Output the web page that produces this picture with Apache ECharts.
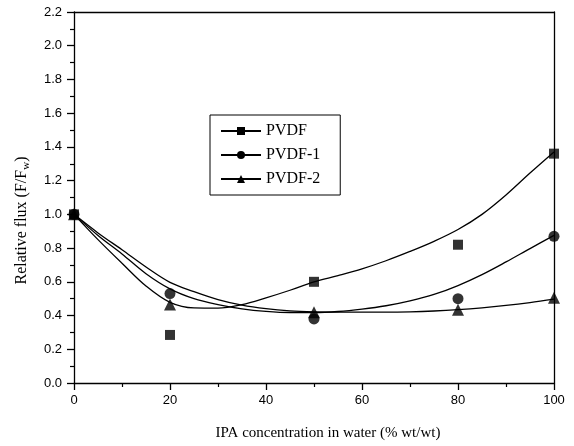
<!DOCTYPE html>
<html>
<head>
<meta charset="utf-8">
<script src="https://cdn.jsdelivr.net/npm/echarts@6/dist/echarts.min.js"></script>
<style>html,body{margin:0;padding:0;background:#fff}#c{width:574px;height:446px}</style>
</head>
<body>
<div id="c"></div>
<script>
// measured data points
const xData = [0, 20, 50, 80, 100];
const pvdf  = [1.00, 0.285, 0.60, 0.82, 1.36];
const pvdf1 = [1.00, 0.53, 0.38, 0.50, 0.87];
const pvdf2 = [1.00, 0.465, 0.42, 0.435, 0.505];

// fitted curves at x = 0, 5, ..., 100
const fitX     = [0,5,10,15,20,25,30,35,40,45,50,55,60,65,70,75,80,85,90,95,100];
const fitPvdf  = [1.00,0.85,0.71,0.575,0.478,0.445,0.444,0.465,0.505,0.55,0.60,0.637,0.677,0.725,0.78,0.84,0.91,1.00,1.115,1.245,1.37];
const fitPvdf1 = [1.00,0.875,0.765,0.648,0.558,0.50,0.465,0.44,0.425,0.418,0.418,0.424,0.438,0.458,0.487,0.525,0.578,0.643,0.718,0.797,0.875];
const fitPvdf2 = [1.00,0.89,0.79,0.688,0.597,0.542,0.495,0.462,0.441,0.428,0.422,0.42,0.42,0.42,0.422,0.427,0.435,0.446,0.46,0.477,0.497];

const chart = echarts.init(document.getElementById('c'));
const toPairs = (xs, ys) => xs.map((x, i) => [x, ys[i]]);
const lineStyle = {color:'#000', width:1.3};
const tickFont = {fontFamily:'Liberation Sans', fontSize:13, color:'#000'};
chart.setOption({
  animation:false,
  backgroundColor:'#fff',
  grid:{left:74, right:20, top:12, bottom:62},
  legend:{
    orient:'vertical', left:210, top:115, width:130,
    data:['PVDF','PVDF-1','PVDF-2'],
    borderColor:'#000', borderWidth:1, padding:[8,20,8,10],
    itemWidth:40, itemHeight:10, itemGap:8,
    textStyle:{fontFamily:'Liberation Serif', fontSize:16, color:'#000'}
  },
  xAxis:[{
    type:'value', min:0, max:100, interval:20,
    name:'IPA concentration in water (% wt/wt)', nameLocation:'middle', nameGap:43,
    nameTextStyle:{fontFamily:'Liberation Serif', fontSize:15, color:'#000', padding:[0,0,0,28]},
    axisLine:{lineStyle:{color:'#000', width:1.3}},
    axisTick:{length:7, lineStyle:{color:'#000', width:1.3}},
    minorTick:{show:true, splitNumber:2, length:4, lineStyle:{color:'#000', width:1.2}},
    axisLabel:Object.assign({margin:11}, tickFont),
    splitLine:{show:false}
  },{
    type:'value', min:0, max:100, position:'top',
    axisLine:{onZero:false, lineStyle:{color:'#000', width:1.3}},
    axisTick:{show:false}, axisLabel:{show:false}, splitLine:{show:false}
  }],
  yAxis:[{
    type:'value', min:0, max:2.2, interval:0.2,
    name:'Relative flux (F/F{sub|w})', nameLocation:'middle', nameGap:42, nameRotate:90,
    nameTextStyle:{fontFamily:'Liberation Serif', fontSize:16, color:'#000', padding:[0,0,0,-46],
      rich:{sub:{fontFamily:'Liberation Serif', fontSize:11, color:'#000', verticalAlign:'bottom', padding:[9,0,0,0]}}},
    axisLine:{lineStyle:{color:'#000', width:1.3}},
    axisTick:{length:7, lineStyle:{color:'#000', width:1.3}},
    minorTick:{show:true, splitNumber:2, length:4, lineStyle:{color:'#000', width:1.2}},
    axisLabel:Object.assign({margin:12, formatter:v=>v.toFixed(1)}, tickFont),
    splitLine:{show:false}
  },{
    type:'value', min:0, max:2.2, position:'right',
    axisLine:{onZero:false, lineStyle:{color:'#000', width:1.3}},
    axisTick:{show:false}, axisLabel:{show:false}, splitLine:{show:false}
  }],
  series:[
    {name:'PVDF', type:'line', smooth:0.35, data:toPairs(fitX,fitPvdf), symbol:'rect', symbolSize:9, showSymbol:false, lineStyle, itemStyle:{color:'#000'}},
    {name:'PVDF-1', type:'line', smooth:0.35, data:toPairs(fitX,fitPvdf1), symbol:'circle', symbolSize:10, showSymbol:false, lineStyle, itemStyle:{color:'#000'}},
    {name:'PVDF-2', type:'line', smooth:0.35, data:toPairs(fitX,fitPvdf2), symbol:'triangle', symbolSize:11, showSymbol:false, lineStyle, itemStyle:{color:'#000'}},
    {name:'PVDF', type:'scatter', data:toPairs(xData,pvdf), symbol:'rect', symbolSize:10, itemStyle:{color:'#000'}},
    {name:'PVDF-1', type:'scatter', data:toPairs(xData,pvdf1), symbol:'circle', symbolSize:11, itemStyle:{color:'#000'}},
    {name:'PVDF-2', type:'scatter', data:toPairs(xData,pvdf2), symbol:'triangle', symbolSize:12, itemStyle:{color:'#000'}}
  ]
});
</script>
</body>
</html>
